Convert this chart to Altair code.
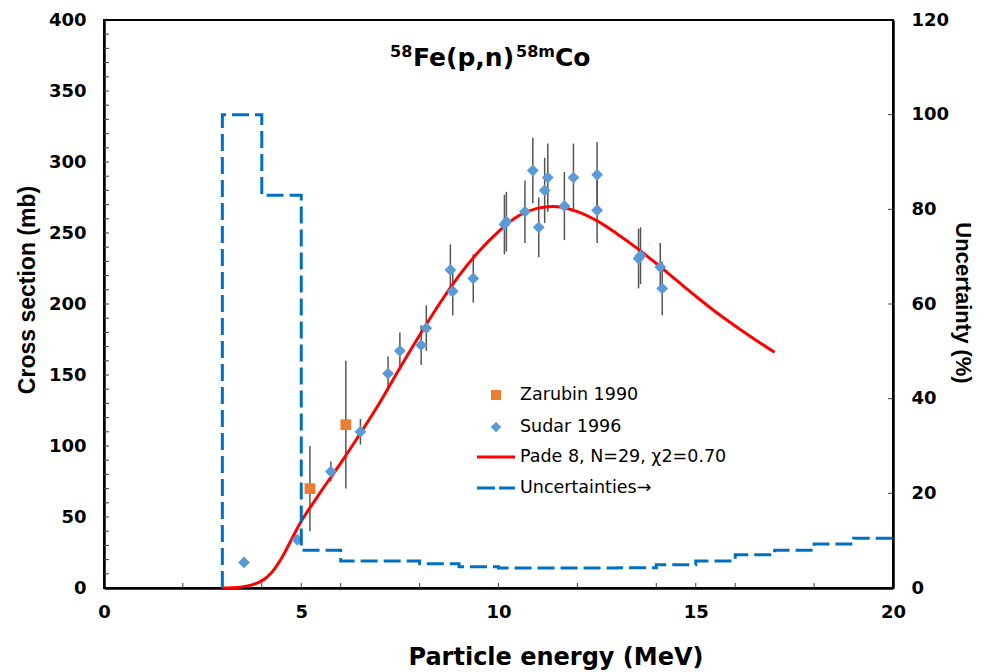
import altair as alt
import pandas as pd

# --- Sudar 1996 measurements (MeV, mb, +/- mb)
sudar_e = [3.55, 4.90, 5.75, 6.50, 7.20, 7.50, 8.04, 8.17, 8.78, 8.84, 9.36,
           10.15, 10.20, 10.67, 10.87, 11.02, 11.17, 11.25, 11.67, 11.90,
           12.50, 12.50, 13.55, 13.60, 14.10, 14.15]
sudar_xs = [18, 34, 82, 110, 151, 167, 171, 183, 224, 209, 218,
            256, 258, 265, 294, 254, 280, 289, 269, 289,
            291, 266, 232, 234, 226, 211]
sudar_err = [0, 3, 7, 9, 12, 13, 14, 16, 18, 17, 17,
             21, 21, 22, 23, 21, 23, 24, 24, 24,
             23, 23, 21, 20, 17, 19]

# --- Zarubin 1990 measurements
zarubin_e = [5.22, 6.13]
zarubin_xs = [70, 115]
zarubin_err = [30, 45]

# --- Pade fit curve
pade_e = [3.0, 3.25, 3.5, 3.75, 4.0, 4.25, 4.5, 4.75, 5.0, 5.5, 6.0, 6.5, 7.0,
          7.5, 8.0, 8.5, 9.0, 9.5, 10.0, 10.5, 11.0, 11.5, 12.0, 12.5, 13.0,
          13.5, 14.0, 14.5, 15.0, 15.5, 16.0, 16.5, 17.0]
pade_xs = [0, 0.2, 0.8, 2.2, 5.0, 11, 21, 34, 47, 68, 88, 109, 131,
           155, 178, 200, 220, 237, 251, 262, 267.5, 268.5, 265, 258.5, 249.5,
           239.5, 228.5, 217, 205.5, 194.5, 184.5, 175, 166]

# --- relative uncertainty of the fit (%), step function
unc_e = [3, 3, 4, 5, 6, 7, 8, 9, 10, 11, 12, 13, 14, 15, 16, 17, 18, 19, 20]
unc_pct = [0, 100, 83, 8.0, 5.7, 5.7, 5.1, 4.5, 4.2, 4.2, 4.2, 4.3, 4.9,
           5.7, 7.0, 8.0, 9.3, 10.5, 10.5]

# tick positions
x_minor = [2, 4, 5, 6, 8, 10, 12, 14, 15, 16, 18]
y_minor = list(range(10, 400, 10))
y2_minor = [20, 40, 60, 80, 100]

W, H = 789, 568
FONT = "DejaVu Sans"
BLUE_PT = "#5B9BD5"
ORANGE = "#ED7D31"
RED = "#FF0000"
BLUE_DASH = "#0070C0"
DASH = [17, 6]

sudar = pd.DataFrame({"e": sudar_e, "xs": sudar_xs,
                      "lo": [v - d for v, d in zip(sudar_xs, sudar_err)],
                      "hi": [v + d for v, d in zip(sudar_xs, sudar_err)]})
zarubin = pd.DataFrame({"e": zarubin_e, "xs": zarubin_xs,
                        "lo": [v - d for v, d in zip(zarubin_xs, zarubin_err)],
                        "hi": [v + d for v, d in zip(zarubin_xs, zarubin_err)]})
pade = pd.DataFrame({"e": pade_e, "xs": pade_xs})
unc = pd.DataFrame({"e": unc_e, "pct": unc_pct, "order": list(range(len(unc_e)))})
one = pd.DataFrame({"k": [0]})

x_scale = alt.Scale(domain=[0, 20], nice=False, zero=False)
yl_scale = alt.Scale(domain=[0, 400], nice=False)
yr_scale = alt.Scale(domain=[0, 120], nice=False)

common_axis = dict(ticks=False, grid=False, domainColor="black", domainWidth=2.5,
                   labelFont=FONT, labelFontWeight="bold", labelFontSize=18,
                   labelColor="black", labelFlush=False, labelOverlap=False, title=None)
x_axis = alt.Axis(values=[0, 5, 10, 15, 20], labelPadding=15, **common_axis)
yl_axis = alt.Axis(values=list(range(0, 401, 50)), labelPadding=18, **common_axis)
yr_axis = alt.Axis(values=list(range(0, 121, 20)), orient="right", labelPadding=18, **common_axis)


def X(field):
    return alt.X(field, type="quantitative", scale=x_scale, axis=x_axis)


def YL(field):
    return alt.Y(field, type="quantitative", scale=yl_scale, axis=yl_axis)


def YR(field):
    return alt.Y(field, type="quantitative", scale=yr_scale, axis=yr_axis)


def label(text, x, y, size, weight="normal", align="left", angle=0,
          baseline="middle", font=FONT):
    kw = dict(text=text, align=align, baseline=baseline, font=font,
              fontSize=size, fontWeight=weight, color="black")
    if angle:
        kw["angle"] = angle
    return alt.Chart(one).mark_text(**kw).encode(x=alt.value(x), y=alt.value(y))


# inner tick marks
x_ticks = alt.Chart(pd.DataFrame({"e": x_minor})).mark_rule(color="#404040", strokeWidth=1).encode(
    x=X("e"), y=alt.value(H), y2=alt.value(H - 5))
y_ticks = alt.Chart(pd.DataFrame({"v": y_minor})).mark_rule(color="#404040", strokeWidth=1).encode(
    y=YL("v"), x=alt.value(0), x2=alt.value(5))
y2_ticks = alt.Chart(pd.DataFrame({"v": y2_minor})).mark_rule(color="#404040", strokeWidth=1).encode(
    y=YR("v"), x=alt.value(W), x2=alt.value(W - 5))

# error bars
err_s = alt.Chart(sudar).mark_rule(color="#555555", strokeWidth=1.5).encode(
    x=X("e"), y=YL("lo"), y2="hi")
err_z = alt.Chart(zarubin).mark_rule(color="#555555", strokeWidth=1.5).encode(
    x=X("e"), y=YL("lo"), y2="hi")

fit = alt.Chart(pade).mark_line(color=RED, strokeWidth=3, interpolate="catmull-rom").encode(
    x=X("e"), y=YL("xs"))

pts_z = alt.Chart(zarubin).mark_point(shape="square", filled=True, size=115,
                                      color=ORANGE, opacity=1).encode(x=X("e"), y=YL("xs"))
pts_s = alt.Chart(sudar).mark_point(shape="diamond", filled=True, size=140,
                                    color=BLUE_PT, opacity=1).encode(x=X("e"), y=YL("xs"))

# title with superscripts
TX, TB, TS = 286, 46, 37
title = alt.layer(
    label("58", TX, TS, 16, "bold", baseline="alphabetic"),
    label("Fe(p,n)", TX + 23, TB, 25, "bold", baseline="alphabetic"),
    label("58m", TX + 126, TS, 16, "bold", baseline="alphabetic"),
    label("Co", TX + 165, TB, 25, "bold", baseline="alphabetic"),
)

# axis titles
axis_titles = alt.layer(
    label("Particle energy (MeV)", 452, 645, 24, "bold", align="center", baseline="alphabetic"),
    label("Cross section (mb)", -76, 270, 23, "bold", align="center", angle=270,
          font="Liberation Sans"),
    label("Uncertainty (%)", 859, 283, 22, "bold", align="center", angle=90,
          font="Liberation Sans"),
)

# legend
LX, LT = 416, 375
legend = alt.layer(
    alt.Chart(one).mark_point(shape="square", filled=True, size=100, color=ORANGE, opacity=1).encode(
        x=alt.value(392), y=alt.value(LT)),
    alt.Chart(one).mark_point(shape="diamond", filled=True, size=110, color=BLUE_PT, opacity=1).encode(
        x=alt.value(392), y=alt.value(LT + 32)),
    alt.Chart(one).mark_rule(color=RED, strokeWidth=3).encode(
        x=alt.value(373), x2=alt.value(411), y=alt.value(LT + 62)),
    alt.Chart(one).mark_rule(color=BLUE_DASH, strokeWidth=3, strokeDash=[18, 4]).encode(
        x=alt.value(373), x2=alt.value(411), y=alt.value(LT + 93)),
    label("Zarubin 1990", LX, LT, 17.5),
    label("Sudar 1996", LX, LT + 32, 17.5),
    label("Pade 8, N=29, \u03c72=0.70", LX, LT + 62, 17.5),
    label("Uncertainties\u2192", LX, LT + 93, 17.5),
)

left = alt.layer(y_ticks, x_ticks, err_s, err_z, fit, pts_z, pts_s, title, axis_titles, legend)

unc_line = alt.Chart(unc).mark_line(color=BLUE_DASH, strokeWidth=3, strokeDash=DASH,
                                    interpolate="step-after").encode(
    x=X("e"), y=YR("pct"), order="order:Q")
right = alt.layer(y2_ticks, unc_line)

chart = alt.layer(left, right).resolve_scale(y="independent").properties(
    width=W, height=H,
    autosize=alt.AutoSizeParams(type="none"),
    padding={"left": 104, "top": 20, "right": 96, "bottom": 84},
    background="white",
).configure_view(stroke="black", strokeWidth=2)

chart.save("out.html", embed_options={"renderer": "svg", "actions": False})
